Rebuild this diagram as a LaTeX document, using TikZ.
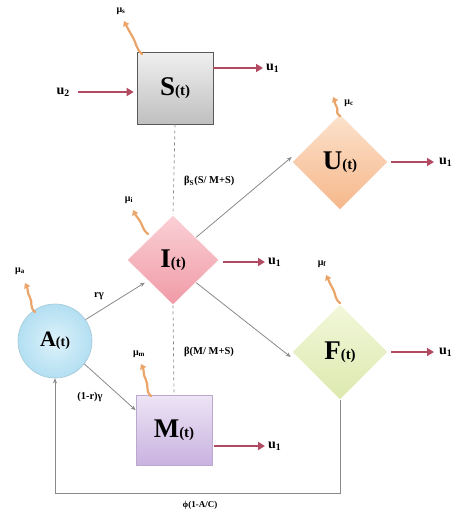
\documentclass[tikz,border=0pt]{standalone}
\usepackage{fontspec}
\setmainfont{Liberation Serif}
\usetikzlibrary{shapes.geometric,arrows.meta,calc}

\definecolor{outred}{HTML}{B24A62}
\definecolor{lossorange}{HTML}{EBA56A}
\definecolor{linkgray}{HTML}{8A8A8A}
\definecolor{utop}{HTML}{FCE2CC}
\definecolor{ubot}{HTML}{F5B78A}
\definecolor{itop}{HTML}{FAD0D5}
\definecolor{ibot}{HTML}{F09AA6}
\definecolor{ftop}{HTML}{F2F7DA}
\definecolor{fbot}{HTML}{DCE9AE}
\definecolor{ain}{HTML}{DDF2FA}
\definecolor{aout}{HTML}{B3DFF2}
\definecolor{mtop}{HTML}{EDE4F5}
\definecolor{mbot}{HTML}{C9B2E0}

\tikzset{
  big/.style={font=\fontsize{27}{27}\selectfont\bfseries},
  tiny/.style={font=\fontsize{10}{10}\selectfont\bfseries, inner sep=0pt},
  rate/.style={font=\fontsize{10.5}{10.5}\selectfont\bfseries, inner sep=0pt},
  outlbl/.style={font=\fontsize{14}{14}\selectfont\bfseries, inner sep=0pt, anchor=west},
  outarrow/.style={draw=outred, line width=2.2pt, -{Triangle[length=7pt,width=8pt]}},
  lossarrow/.style={draw=lossorange, line width=2.2pt, line cap=round, -{Triangle[length=5pt,width=6.5pt]}},
  link/.style={draw=linkgray, line width=0.8pt, -{Stealth[length=5pt,width=4pt]}},
  dashlink/.style={draw=linkgray, line width=0.7pt, dashed},
  boxnode/.style={rectangle, draw=#1, line width=0.6pt, inner sep=0pt},
  dianode/.style={diamond, draw=white, line width=0.6pt, inner sep=0pt,
    minimum width=96pt, minimum height=96pt},
}

\newcommand{\statelbl}[1]{#1{\fontsize{15}{15}\selectfont(t)}}
% a loss arrow with a small wiggle, from a compartment towards its rate label
\newcommand{\lossto}[2]{\draw[lossarrow] (#1) .. controls +(-6,-5) and +(3,5) .. ($(#1)!0.5!(#2)$)
  .. controls +(-3,-5) and +(3,6) .. (#2);}

\begin{document}
\begin{tikzpicture}[x=1pt,y=-1pt]
\useasboundingbox[fill=white] (0,0) rectangle (454,512);

% compartments
\node[boxnode=gray!70!black, top color=gray!12, bottom color=gray!50,
      minimum width=76pt, minimum height=72pt, big] (S) at (175,88) {\statelbl{S}};
\node[dianode, top color=utop, bottom color=ubot] (U) at (340,162) {};
\node[big] at (U) {\statelbl{U}};
\node[dianode, top color=itop, bottom color=ibot,
      minimum width=92pt, minimum height=90pt] (I) at (173,260) {};
\node[big] at (I) {\statelbl{I}};
\node[dianode, top color=ftop, bottom color=fbot] (F) at (340,352) {};
\node[big] at (F) {\statelbl{F}};
\node[circle, draw=aout!80!gray, line width=0.7pt, inner color=ain, outer color=aout,
      minimum size=74pt, inner sep=0pt, font=\fontsize{22}{22}\selectfont\bfseries] (A) at (55,341) {A{\fontsize{14}{14}\selectfont(t)}};
\node[boxnode=mbot!80!gray, top color=mtop, bottom color=mbot,
      minimum width=76pt, minimum height=70pt, big] (M) at (174,430) {\statelbl{M}};

% outflow labels
\node[outlbl] (uS) at (266,68) {u\textsubscript{1}};
\node[outlbl, anchor=east] (u2) at (70,92) {u\textsubscript{2}};
\node[outlbl] (uI) at (268,262) {u\textsubscript{1}};
\node[outlbl] (uU) at (439,162) {u\textsubscript{1}};
\node[outlbl] (uF) at (439,352) {u\textsubscript{1}};
\node[outlbl] (uM) at (268,446) {u\textsubscript{1}};

\draw[outarrow] (S.east |- uS.west) -- ([xshift=-3pt]uS.west);
\draw[outarrow] ([xshift=8pt]u2.east) -- ([xshift=-3pt]S.west |- u2.east);
\draw[outarrow, shorten <=4pt] (I.east |- uI.west) -- ([xshift=-3pt]uI.west);
\draw[outarrow, shorten <=3pt] (U.east) -- ([xshift=-5pt]uU.west);
\draw[outarrow, shorten <=3pt] (F.east) -- ([xshift=-5pt]uF.west);
\draw[outarrow, shorten <=2pt] (M.east |- uM.west) -- ([xshift=-3pt]uM.west);

% death rates
\node[tiny] (mS) at (121,11) {μ\textsubscript{s}};
\node[tiny] (mU) at (349,103) {μ\textsubscript{c}};
\node[tiny] (mI) at (129,200) {μ\textsubscript{i}};
\node[tiny] (mA) at (20,271) {μ\textsubscript{a}};
\node[tiny] (mM) at (139,354) {μ\textsubscript{m}};
\node[tiny] (mF) at (322,264) {μ\textsubscript{f}};

\coordinate (sS) at (142,54);
\coordinate (sU) at (340,116);
\coordinate (sI) at (148,234);
\coordinate (sA) at (35,312);
\coordinate (sM) at (151,396);
\coordinate (sF) at (340,303);

\coordinate (eS) at (124,21);
\coordinate (eU) at (333,97);
\coordinate (eI) at (133,210);
\coordinate (eA) at (25,283);
\coordinate (eM) at (141,364);
\coordinate (eF) at (326,275);

\lossto{sS}{eS}
\lossto{sU}{eU}
\lossto{sI}{eI}
\lossto{sA}{eA}
\lossto{sM}{eM}
\lossto{sF}{eF}

% transmission and progression
\draw[dashlink] (S.south) -- (I.north);
\draw[dashlink] (I.south) -- (M.north);
\node[rate, anchor=west] (bS) at (184,181) {β\textsubscript{S}(S/ M+S)};
\node[rate, anchor=west] (bM) at (184,352) {β(M/ M+S)};

\draw[link] (A.35) -- ([shift={(-5pt,0pt)}]I.south west);
\draw[link] (A.-38) -- ($(M.north west)!0.22!(M.south west)$);
\node[rate] (rg) at (99,296) {rγ};
\node[rate] (rg2) at (90,397) {(1-r)γ};

\draw[link] (I.north east) -- ([shift={(0pt,5pt)}]U.west);
\draw[link] (I.south east) -- ([shift={(-1pt,-5pt)}]F.west);

% feedback to A
\coordinate (fb) at (0,493);
\draw[link, line width=0.6pt] (F.south) -- (F.south |- fb) -| (A.south);
\node[tiny, font=\fontsize{9}{9}\selectfont\bfseries] (phi) at (200,505) {ϕ(1-A/C)};
\end{tikzpicture}
\end{document}
